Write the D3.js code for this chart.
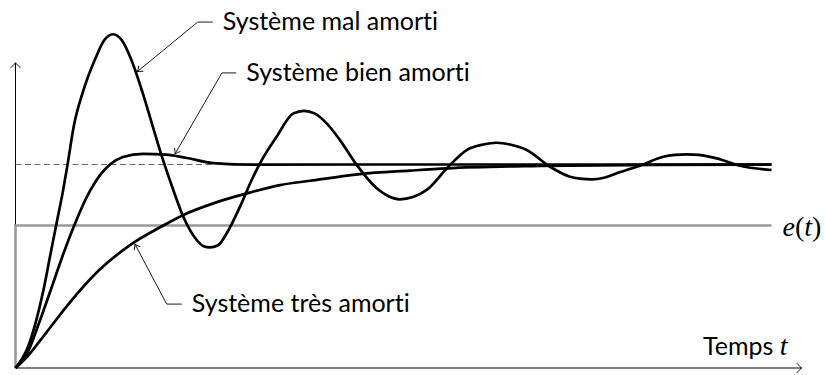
<!DOCTYPE html>
<html>
<head>
<meta charset="utf-8">
<script src="https://cdn.jsdelivr.net/npm/d3@7"></script>
<style>
  body { margin: 0; background: #fff; }
  svg { display: block; }
  .label { font-family: Lato, "Open Sans", sans-serif; font-size: 25px; fill: #000; font-variant-ligatures: none; }
  .math { font-family: "Liberation Serif", "DejaVu Serif", serif; font-size: 28px; fill: #000; }
</style>
</head>
<body>
<div id="chart"></div>
<script>
var svgWidth = 825;
var svgHeight = 375;

// Système mal amorti
var malT = [0, 0.148, 0.265, 0.370, 0.456, 0.536, 0.626, 0.689, 0.774, 0.893, 1.058, 1.171, 1.290, 1.409,
  1.524, 1.677, 1.810, 1.934, 2.087, 2.220, 2.397, 2.480, 2.573, 2.679,
  2.794, 2.970, 3.124, 3.234, 3.455, 3.671, 3.816, 3.962,
  4.116, 4.292, 4.513, 4.778, 4.940, 5.086, 5.258,
  5.439, 5.725, 5.968, 6.184, 6.365, 6.541,
  6.762, 7.070, 7.335, 7.467, 7.622, 7.784,
  7.952, 8.283, 8.569, 8.724, 8.878, 9.041,
  9.275, 9.583, 10.0];
var malY = [0, 0.088, 0.221, 0.383, 0.547, 0.698, 0.866, 1.001, 1.194, 1.358, 1.522, 1.609, 1.640, 1.609,
  1.522, 1.358, 1.194, 1.042, 0.875, 0.743, 0.629, 0.600, 0.593, 0.603,
  0.662, 0.793, 0.924, 1.006, 1.137, 1.250, 1.264, 1.250,
  1.202, 1.120, 0.998, 0.883, 0.843, 0.829, 0.840,
  0.875, 0.989, 1.071, 1.098, 1.107, 1.098,
  1.071, 0.989, 0.940, 0.931, 0.927, 0.935,
  0.957, 0.998, 1.038, 1.047, 1.050, 1.047,
  1.030, 0.994, 0.973];

// Système bien amorti
var bienT = [0, 0.152, 0.311, 0.466, 0.619, 0.774, 0.985, 1.118, 1.250, 1.422, 1.687, 1.991, 2.269, 2.612, 3.141, 5.09, 10.0];
var bienY = [0, 0.070, 0.221, 0.383, 0.547, 0.698, 0.870, 0.948, 1.0, 1.037, 1.052, 1.049, 1.032, 1.007, 0.999, 1.0, 1.0];

// Système très amorti
var tresT = [0, 0.156, 0.333, 0.685, 1.104, 1.515, 1.955, 2.220, 2.616, 3.058, 3.499, 3.896, 4.557, 5.218, 5.704, 6.938, 8.393, 10.0];
var tresY = [0, 0.056, 0.138, 0.307, 0.480, 0.604, 0.700, 0.752, 0.809, 0.858, 0.899, 0.920, 0.953, 0.970, 0.981, 0.993, 0.998, 1.0];

// consigne e(t)
var eT = [0, 0, 10.0];
var eY = [0, 0.7, 0.7];

// final value (dashed)
var finalT = [0, 2.64];
var finalY = [1, 1];

// axis ends
var xAxisMax = 10.4;
var yAxisMax = 1.5;

// annotations: arrow tip, elbow, end of leader, label
var notes = [
  { text: "Système mal amorti", tip: [1.61, 1.456], elbow: [2.41, 1.70], end: [2.61, 1.70] },
  { text: "Système bien amorti", tip: [2.11, 1.052], elbow: [2.73, 1.45], end: [2.92, 1.45] },
  { text: "Système très amorti", tip: [1.58, 0.609], elbow: [2.00, 0.314], end: [2.20, 0.314] }
];

var svg = d3.select("#chart")
  .append("svg")
  .attr("width", svgWidth)
  .attr("height", svgHeight);

var xScale = d3.scaleLinear().domain([0, 10]).range([15.5, 771.5]);
var yScale = d3.scaleLinear().domain([0, 1]).range([368, 164.5]);

function zip(ts, ys) {
  return ts.map(function(t, i) { return [t, ys[i]]; });
}

var smooth = d3.line()
  .x(d => xScale(d[0]))
  .y(d => yScale(d[1]))
  .curve(d3.curveMonotoneX);

var straight = d3.line()
  .x(d => xScale(d[0]))
  .y(d => yScale(d[1]));

// small latex-like arrow tip at (x,y) pointing along angle
function arrowTip(x, y, angle, len, half) {
  svg.append("path")
    .attr("d", `M${-len},${-half} Q${-len * 0.35},${-half * 0.2} 0,0 Q${-len * 0.35},${half * 0.2} ${-len},${half}`)
    .attr("transform", `translate(${x},${y}) rotate(${angle})`)
    .attr("fill", "none")
    .attr("stroke", "#000")
    .attr("stroke-width", 0.9);
}

// axes
svg.append("line")
  .attr("x1", xScale(0)).attr("y1", yScale(0))
  .attr("x2", xScale(xAxisMax)).attr("y2", yScale(0))
  .attr("stroke", "#000").attr("stroke-width", 1);
arrowTip(xScale(xAxisMax), yScale(0), 0, 5, 5);

svg.append("line")
  .attr("x1", xScale(0)).attr("y1", yScale(0))
  .attr("x2", xScale(0)).attr("y2", yScale(yAxisMax))
  .attr("stroke", "#000").attr("stroke-width", 1);
arrowTip(xScale(0), yScale(yAxisMax), -90, 5, 5);

// dashed final value
svg.append("path")
  .attr("d", straight(zip(finalT, finalY)))
  .attr("fill", "none")
  .attr("stroke", "#666")
  .attr("stroke-width", 1)
  .attr("stroke-dasharray", "6,3.5");

// input step
svg.append("path")
  .attr("d", straight(zip(eT, eY)))
  .attr("fill", "none")
  .attr("stroke", "#999")
  .attr("stroke-width", 2.6);

// responses
[[tresT, tresY], [bienT, bienY], [malT, malY]].forEach(function(s) {
  svg.append("path")
    .attr("d", smooth(zip(s[0], s[1])))
    .attr("fill", "none")
    .attr("stroke", "#000")
    .attr("stroke-width", 2.7)
    .attr("stroke-linejoin", "round");
});

// annotations
notes.forEach(function(n) {
  var pts = [n.end, n.elbow, n.tip];
  svg.append("path")
    .attr("d", straight(pts))
    .attr("fill", "none")
    .attr("stroke", "#000")
    .attr("stroke-width", 0.9);
  var dx = xScale(n.tip[0]) - xScale(n.elbow[0]);
  var dy = yScale(n.tip[1]) - yScale(n.elbow[1]);
  arrowTip(xScale(n.tip[0]), yScale(n.tip[1]), Math.atan2(dy, dx) * 180 / Math.PI, 5, 3.5);
  svg.append("text")
    .attr("class", "label")
    .attr("x", xScale(n.end[0]) + 10)
    .attr("y", yScale(n.end[1]) + 8)
    .text(n.text);
});

// e(t) label
var eLab = svg.append("text")
  .attr("class", "math")
  .attr("x", xScale(10) + 11)
  .attr("y", yScale(0.7) + 10);
eLab.append("tspan").attr("font-style", "italic").text("e");
eLab.append("tspan").text("(");
eLab.append("tspan").attr("font-style", "italic").text("t");
eLab.append("tspan").text(")");

// axis title
var tLab = svg.append("text")
  .attr("x", 703)
  .attr("y", 355);
tLab.append("tspan").attr("class", "label").text("Temps ");
tLab.append("tspan").attr("class", "math").attr("font-style", "italic").text("t");
</script>
</body>
</html>
